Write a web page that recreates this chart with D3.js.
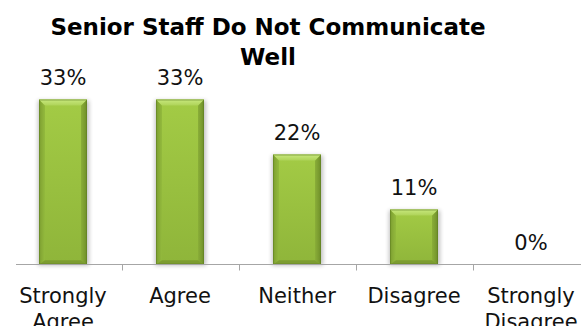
<!DOCTYPE html>
<html>
<head>
<meta charset="utf-8">
<script src="https://cdn.jsdelivr.net/npm/d3@7"></script>
<style>
  html, body { margin: 0; padding: 0; background: #ffffff; }
  svg { display: block; }
  text { font-family: "DejaVu Sans", Verdana, sans-serif; }
</style>
</head>
<body>
<svg id="chart" width="581" height="326"></svg>
<script>
// Survey responses (percent of respondents)
const categories = ["Strongly Agree", "Agree", "Neither", "Disagree", "Strongly Disagree"];
const values = [33, 33, 22, 11, 0];
const valueLabels = ["33%", "33%", "22%", "11%", "0%"];
const titleLines = ["Senior Staff Do Not Communicate", "Well"];

const W = 581, H = 326;
const baseY = 264.5;

const svg = d3.select("#chart");

const x = d3.scaleBand().domain(categories).range([4.5, 589.5]).padding(0);
const y = d3.scaleLinear().domain([0, 35]).range([baseY, baseY - 175]);

const barW = x.bandwidth() * 0.41;
const bev = 6;

// gradients and shadow filter
const defs = svg.append("defs");
const gMain = defs.append("linearGradient").attr("id", "gMain").attr("x1", 0).attr("x2", 0).attr("y1", 0).attr("y2", 1);
gMain.append("stop").attr("offset", "0%").attr("stop-color", "#a3cb45");
gMain.append("stop").attr("offset", "100%").attr("stop-color", "#8fb53a");
const gTop = defs.append("linearGradient").attr("id", "gTop").attr("x1", 0).attr("x2", 0).attr("y1", 0).attr("y2", 1);
gTop.append("stop").attr("offset", "0%").attr("stop-color", "#c8e87e");
gTop.append("stop").attr("offset", "100%").attr("stop-color", "#aed358");
const gSide = defs.append("linearGradient").attr("id", "gSide").attr("x1", 0).attr("x2", 1).attr("y1", 0).attr("y2", 0);
gSide.append("stop").attr("offset", "0%").attr("stop-color", "#7e9f31");
gSide.append("stop").attr("offset", "100%").attr("stop-color", "#93ba3d");
const gSideR = defs.append("linearGradient").attr("id", "gSideR").attr("x1", 0).attr("x2", 1).attr("y1", 0).attr("y2", 0);
gSideR.append("stop").attr("offset", "0%").attr("stop-color", "#8aae38");
gSideR.append("stop").attr("offset", "100%").attr("stop-color", "#6f8f2a");
const shadow = defs.append("filter").attr("id", "shadow").attr("x", "-30%").attr("y", "-10%").attr("width", "160%").attr("height", "130%");
shadow.append("feGaussianBlur").attr("stdDeviation", 2);

// title
svg.append("g").selectAll("text").data(titleLines).join("text")
  .attr("x", 268)
  .attr("y", (d, i) => 35 + i * 30)
  .attr("text-anchor", "middle")
  .attr("font-size", 23)
  .attr("font-weight", "bold")
  .attr("fill", "#000")
  .text(d => d);

// bars with bevelled faces
const data = categories.map((c, i) => ({ c, v: values[i], label: valueLabels[i] }));
const bars = svg.append("g").selectAll("g").data(data.filter(d => d.v > 0)).join("g")
  .attr("transform", d => `translate(${x(d.c) + x.bandwidth() / 2 - barW / 2},${y(d.v)})`);

bars.append("rect")
  .attr("x", -1).attr("y", 1)
  .attr("width", barW + 3)
  .attr("height", d => baseY - y(d.v))
  .attr("fill", "#000").attr("opacity", 0.25)
  .attr("filter", "url(#shadow)");

bars.append("rect")
  .attr("width", barW)
  .attr("height", d => baseY - y(d.v))
  .attr("fill", "url(#gMain)");

// left face
bars.append("path").attr("fill", "url(#gSide)")
  .attr("d", d => { const h = baseY - y(d.v), b = Math.min(bev, h / 2);
    return `M0,0L${b},${b}L${b},${h - b * 0.7}L0,${h}Z`; });
// right face
bars.append("path").attr("fill", "url(#gSideR)")
  .attr("d", d => { const h = baseY - y(d.v), b = Math.min(bev, h / 2);
    return `M${barW},0L${barW - b},${b}L${barW - b},${h - b * 0.7}L${barW},${h}Z`; });
// top face
bars.append("path").attr("fill", "url(#gTop)")
  .attr("d", d => { const h = baseY - y(d.v), b = Math.min(bev, h / 2);
    return `M0,0L${barW},0L${barW - b},${b}L${b},${b}Z`; });
// bottom face
bars.append("path").attr("fill", "#7c9c30")
  .attr("d", d => { const h = baseY - y(d.v), b = Math.min(bev, h / 2) * 0.7;
    return `M0,${h}L${barW},${h}L${barW - bev},${h - b}L${bev},${h - b}Z`; });
// outline
bars.append("rect")
  .attr("x", 0.5).attr("y", 0.5)
  .attr("width", barW - 1)
  .attr("height", d => baseY - y(d.v) - 1)
  .attr("fill", "none")
  .attr("stroke", "#5f7f22").attr("stroke-opacity", 0.6);

// value labels
svg.append("g").selectAll("text").data(data).join("text")
  .attr("x", d => x(d.c) + x.bandwidth() / 2)
  .attr("y", d => y(d.v) - 15)
  .attr("text-anchor", "middle")
  .attr("font-size", 21)
  .attr("fill", "#111")
  .text(d => d.label);

// category axis
const axis = d3.axisBottom(x).tickSize(0).tickFormat("");
const axisG = svg.append("g").attr("transform", `translate(0,${baseY})`).call(axis);
axisG.select(".domain").remove();
axisG.append("line")
  .attr("x1", 16).attr("x2", W)
  .attr("y1", 0).attr("y2", 0)
  .attr("stroke", "#a6a6a6").attr("stroke-width", 1.2);
axisG.selectAll(".boundary").data(categories.slice(1)).join("line")
  .attr("class", "boundary")
  .attr("x1", d => Math.round(x(d)) + 0.5).attr("x2", d => Math.round(x(d)) + 0.5)
  .attr("y1", 0).attr("y2", 6)
  .attr("stroke", "#a6a6a6");

axisG.selectAll(".tick").each(function (d) {
  const t = d3.select(this).append("text")
    .attr("text-anchor", "middle")
    .attr("font-size", 21)
    .attr("fill", "#111")
    .attr("y", 38);
  d.split(" ").forEach((w, i) => {
    t.append("tspan").attr("x", 0).attr("dy", i === 0 ? 0 : 26).text(w);
  });
});
</script>
</body>
</html>
